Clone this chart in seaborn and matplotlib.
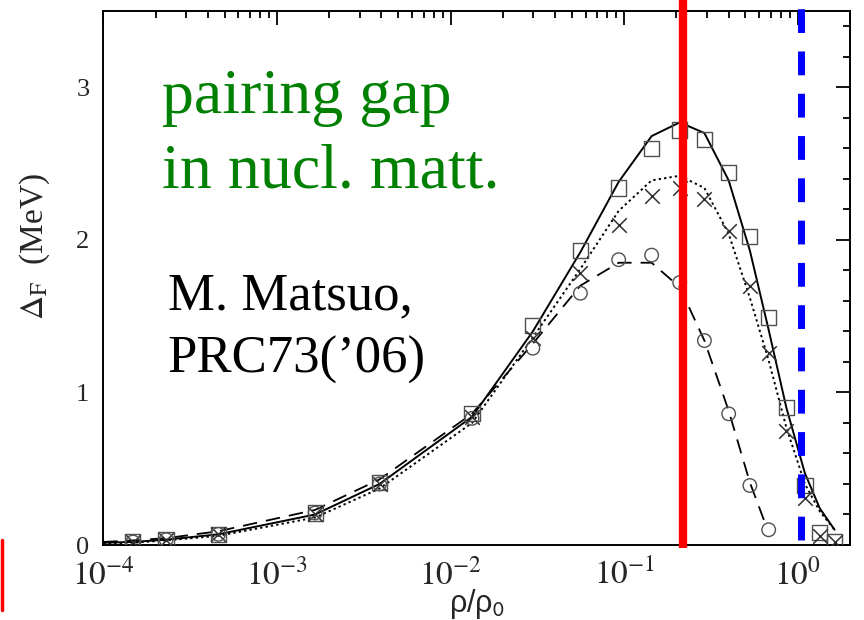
import numpy as np
import pandas as pd
import matplotlib
matplotlib.use("Agg")
import matplotlib.pyplot as plt
from matplotlib.lines import Line2D
from matplotlib.ticker import FixedLocator, FixedFormatter, LogLocator, NullFormatter, MultipleLocator
import seaborn as sns

# ---------------- data ----------------
x_line = [1.0e-4, 1.48e-4, 2.3e-4, 4.6e-4, 1.66e-3, 3.9e-3, 1.33e-2, 0.0298, 0.056,
          0.093, 0.144, 0.209, 0.29, 0.40, 0.53, 0.68, 0.86, 1.10, 1.34, 1.63]
gap_solid = [0.015, 0.02, 0.035, 0.07, 0.20, 0.40, 0.84, 1.40, 1.92, 2.38, 2.68, 2.77,
             2.70, 2.39, 1.93, 1.41, 0.90, 0.47, 0.24, 0.10]
gap_dotted = [0.01, 0.015, 0.03, 0.06, 0.18, 0.37, 0.80, 1.36, 1.81, 2.19, 2.39, 2.42,
              2.34, 2.04, 1.62, 1.21, 0.77, 0.40, 0.22, 0.10]
x_dashed = [1.0e-4, 1.48e-4, 2.3e-4, 4.6e-4, 1.66e-3, 3.9e-3, 1.33e-2, 0.0298, 0.056,
            0.093, 0.144, 0.209, 0.29, 0.40, 0.53, 0.66]
gap_dashed = [0.02, 0.03, 0.045, 0.09, 0.23, 0.43, 0.86, 1.32, 1.70, 1.85, 1.85, 1.69,
              1.34, 0.88, 0.41, 0.12]

x_mark = [1.48e-4, 2.3e-4, 4.6e-4, 1.66e-3, 3.9e-3, 1.33e-2, 0.0298, 0.056, 0.093,
          0.144, 0.209, 0.29, 0.40, 0.53, 0.68, 0.86, 1.10, 1.34, 1.63]
squares = [0.02, 0.035, 0.07, 0.21, 0.41, 0.86, 1.44, 1.93, 2.34, 2.60, 2.72, 2.66,
           2.44, 2.02, 1.49, 0.90, 0.39, 0.08, 0.02]
crosses = [0.02, 0.035, 0.07, 0.20, 0.40, 0.84, 1.36, 1.78, 2.10, 2.29, 2.34, 2.27,
           2.06, 1.70, 1.26, 0.75, 0.31, 0.06, 0.02]
x_circ = [1.48e-4, 2.3e-4, 4.6e-4, 1.66e-3, 3.9e-3, 1.33e-2, 0.0298, 0.056, 0.093,
          0.144, 0.209, 0.29, 0.40, 0.53, 0.68]
circles = [0.02, 0.035, 0.07, 0.21, 0.40, 0.83, 1.29, 1.65, 1.87, 1.90, 1.72, 1.34,
           0.86, 0.39, 0.10]

xtick_vals = [1e-4, 1e-3, 1e-2, 1e-1, 1e0]
xtick_labels = [r"$10^{-4}$", r"$10^{-3}$", r"$10^{-2}$", r"$10^{-1}$", r"$10^{0}$"]
ytick_vals = [0, 1, 2, 3]
ytick_labels = ["0", "1", "2", "3"]

x_red = 0.219
x_blue = 1.05

# ---------------- style ----------------
sns.set_theme(style="white")
plt.rcParams["font.family"] = ["Liberation Serif", "DejaVu Serif"]
plt.rcParams["mathtext.fontset"] = "stix"

fig = plt.figure(figsize=(8.64, 6.2), dpi=100)
ax = fig.add_axes([103.3 / 864, 75 / 620, (850 - 103.3) / 864, (545 - 11) / 620])

lc = "black"
sns.lineplot(x=x_line, y=gap_solid, ax=ax, color=lc, lw=1.4, linestyle="-", sort=False)
sns.lineplot(x=x_line, y=gap_dotted, ax=ax, color=lc, lw=1.4, linestyle=(0, (1.2, 1.6)), sort=False)
sns.lineplot(x=x_dashed, y=gap_dashed, ax=ax, color=lc, lw=1.3, linestyle=(0, (8, 5)), sort=False)

mc = "#505050"
sns.scatterplot(x=x_mark, y=squares, ax=ax, marker="s", s=120, facecolor="none",
                edgecolor=mc, linewidth=1.0, zorder=3)
sns.scatterplot(x=x_mark, y=crosses, ax=ax, marker="x", s=110, color="#303030",
                linewidth=1.1, zorder=3)
sns.scatterplot(x=x_circ, y=circles, ax=ax, marker="o", s=95, facecolor="none",
                edgecolor=mc, linewidth=1.0, zorder=3)

ax.set_xscale("log")
ax.set_xlim(1e-4, 2.0)
ax.set_ylim(0, 3.5)

ax.xaxis.set_major_locator(FixedLocator(xtick_vals))
ax.xaxis.set_major_formatter(FixedFormatter(xtick_labels))
ax.xaxis.set_minor_locator(LogLocator(base=10, subs=np.arange(2, 10), numticks=20))
ax.xaxis.set_minor_formatter(NullFormatter())
ax.yaxis.set_major_locator(FixedLocator(ytick_vals))
ax.yaxis.set_major_formatter(FixedFormatter(ytick_labels))
ax.yaxis.set_minor_locator(MultipleLocator(0.2))

ax.tick_params(which="both", direction="in", top=True, right=True, color="black", width=1.3)
ax.tick_params(which="major", length=10)
ax.tick_params(which="minor", length=5)
ax.tick_params(axis="x", which="major", labelsize=24, pad=10)
ax.tick_params(axis="y", which="major", labelsize=19, pad=10)
for sp in ax.spines.values():
    sp.set_linewidth(1.4)
    sp.set_color("black")

ax.set_xlabel(r"ρ/ρ$_{\mathsf{0}}$", fontsize=22, family=["Liberation Sans", "DejaVu Sans"], labelpad=-3)
ax.set_ylabel(r"$\Delta_{\mathrm{F}}$  (MeV)", fontsize=24)
ax.yaxis.set_label_coords(-0.069, 0.56)

# vertical marker lines
ax.axvline(x_red, ymin=-0.006, ymax=1.021, color="#ff0000", lw=6, clip_on=False,
           solid_capstyle="butt", zorder=5)
ax.axvline(x_blue, ymin=0.0094, ymax=1.011, color="#0000ff", lw=5,
           linestyle=(0, (3.43, 2.66)), dash_capstyle="butt", clip_on=False, zorder=5)

# annotations
ax.text(0.079, 0.670, "pairing gap\nin nucl. matt.", transform=ax.transAxes, color="#008000",
        fontsize=46, linespacing=1.36, va="baseline", ha="left")
ax.text(0.086, 0.322, "M. Matsuo,\nPRC73(’06)", transform=ax.transAxes, color="black",
        fontsize=38, linespacing=1.43, va="baseline", ha="left")

# red mark at lower-left edge
fig.add_artist(Line2D([1.5 / 864, 1.5 / 864], [10 / 620, (620 - 540) / 620], color="#ff0000",
                      lw=2.5, transform=fig.transFigure))

fig.savefig("out.png", dpi=100)
